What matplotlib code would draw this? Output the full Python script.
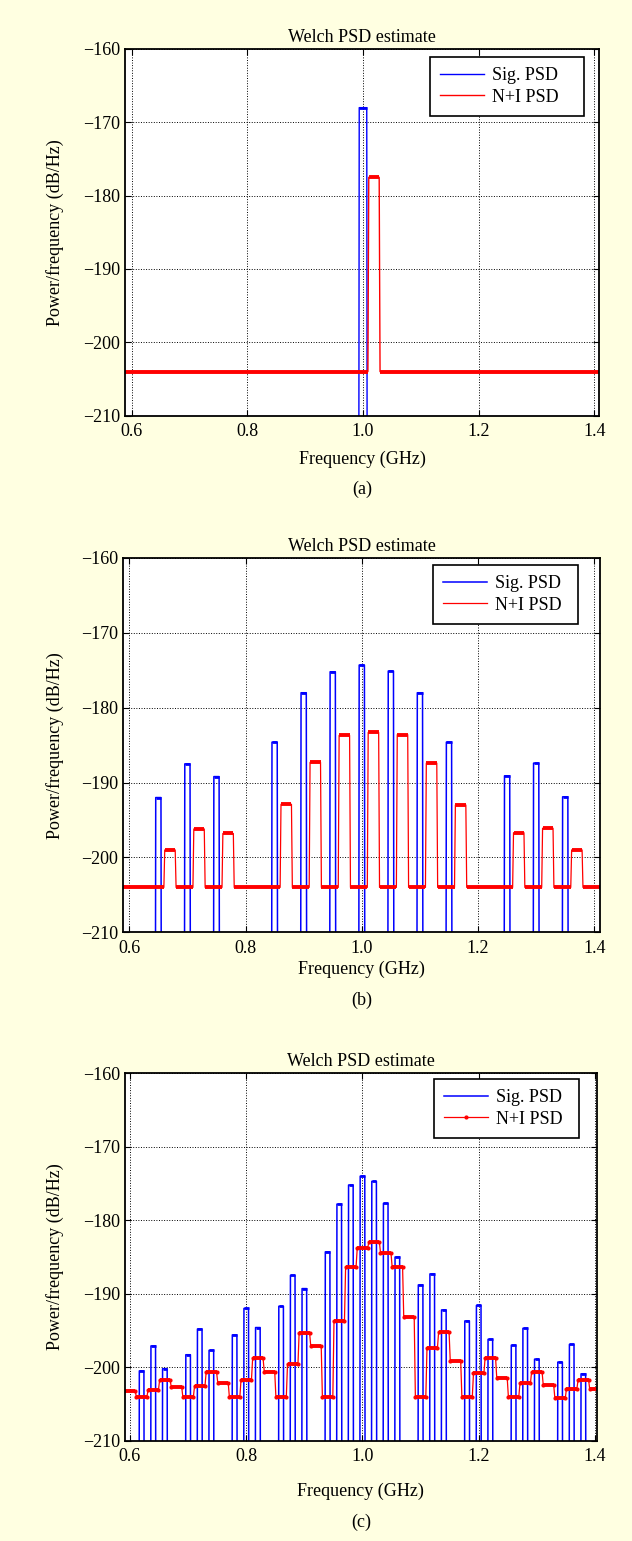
"""Welch PSD estimates: signal vs noise+interference, three band layouts."""

import matplotlib.pyplot as plt
import numpy as np

plt.rcParams["font.family"] = ["Liberation Serif", "DejaVu Serif"]
plt.rcParams["font.size"] = 13

FIG_W, FIG_H = 632, 1541
BG = "#FFFFE1"
BLUE = "#0000FF"
RED = "#FF0000"

FLOOR = -204.0   # N+I noise floor (dB/Hz)
OFF = -240.0     # signal PSD outside its bands, below the plot

# ---- (a) one signal band and one interferer ----
a_sig_centers = [1.000]
a_sig_levels = [-168.0]
a_ni_centers = [1.019]
a_ni_levels = [-177.5]

# ---- (b) 13 signal bands, interferers offset by +20 MHz ----
b_sig_centers = [0.65, 0.70, 0.75, 0.85, 0.90, 0.95, 1.00,
                 1.05, 1.10, 1.15, 1.25, 1.30, 1.35]
b_sig_levels = [-192.0, -187.5, -189.2, -184.6, -178.0, -175.2, -174.3,
                -175.1, -178.0, -184.6, -189.1, -187.4, -191.9]
b_ni_centers = [0.67, 0.72, 0.77, 0.87, 0.92, 0.97, 1.02,
                1.07, 1.12, 1.17, 1.27, 1.32, 1.37]
b_ni_levels = [-199.0, -196.2, -196.8, -192.9, -187.3, -183.7, -183.3,
               -183.6, -187.4, -193.0, -196.7, -196.1, -199.0]

# ---- (c) 31 signal bands, N+I as a staircase of 20 MHz steps ----
c_sig_centers = [0.62, 0.64, 0.66, 0.70, 0.72, 0.74, 0.78, 0.80, 0.82,
                 0.86, 0.88, 0.90, 0.94, 0.96, 0.98, 1.00, 1.02, 1.04,
                 1.06, 1.10, 1.12, 1.14, 1.18, 1.20, 1.22, 1.26, 1.28,
                 1.30, 1.34, 1.36, 1.38]
c_sig_levels = [-200.5, -197.1, -200.2, -198.3, -194.8, -197.7, -195.6,
                -192.0, -194.6, -191.7, -187.5, -189.3, -184.3, -177.8,
                -175.2, -174.0, -174.7, -177.7, -185.0, -188.8, -187.3,
                -192.2, -193.7, -191.6, -196.2, -197.0, -194.7, -198.9,
                -199.3, -196.9, -200.9]
c_ni_centers = [0.60, 0.62, 0.64, 0.66, 0.68, 0.70, 0.72, 0.74, 0.76,
                0.78, 0.80, 0.82, 0.84, 0.86, 0.88, 0.90, 0.92, 0.94,
                0.96, 0.98, 1.00, 1.02, 1.04, 1.06, 1.08, 1.10, 1.12,
                1.14, 1.16, 1.18, 1.20, 1.22, 1.24, 1.26, 1.28, 1.30,
                1.32, 1.34, 1.36, 1.38, 1.40]
c_ni_levels = [-203.2, -204.1, -203.1, -201.7, -202.7, -204.1, -202.6,
               -200.7, -202.1, -204.1, -201.7, -198.8, -200.6, -204.0,
               -199.6, -195.3, -197.1, -204.0, -193.7, -186.3, -183.8,
               -182.9, -184.4, -186.3, -193.2, -204.0, -197.4, -195.2,
               -199.1, -204.0, -200.8, -198.7, -201.4, -204.0, -202.2,
               -200.6, -202.4, -204.2, -202.9, -201.7, -203.0]

x_ticks = [0.6, 0.8, 1.0, 1.2, 1.4]
y_ticks = [-210, -200, -190, -180, -170, -160]


def draw_bands(ax, centers, levels, width, edge, base, color, fuzz, **kw):
    c = np.asarray(centers, float)
    lev = np.asarray(levels, float)
    lo, hi = c - width / 2, c + width / 2
    b = np.full_like(lev, base)
    xs = np.r_[0.5, np.column_stack([lo, lo + edge, hi - edge, hi]).ravel(), 1.5]
    ys = np.r_[base, np.column_stack([b, lev, lev, b]).ravel(), base]
    line, = ax.plot(xs, ys, color=color, **kw)
    ax.hlines(lev, lo + edge, hi - edge, colors=color, lw=fuzz)
    if base > -210:
        gap_lo = np.r_[0.5, hi]
        gap_hi = np.r_[lo, 1.5]
        ax.hlines(np.full_like(gap_lo, base), gap_lo, gap_hi,
                  colors=color, lw=fuzz)
    return line


def draw_steps(ax, centers, levels, step, ramp, color, fuzz, **kw):
    c = np.asarray(centers, float)
    lev = np.asarray(levels, float)
    lo, hi = c - step / 2 + ramp, c + step / 2 - ramp
    lo[0], hi[-1] = 0.5, 1.5
    xs = np.column_stack([lo, hi]).ravel()
    ys = np.column_stack([lev, lev]).ravel()
    line, = ax.plot(xs, ys, color=color, **kw)
    ax.hlines(lev, lo, hi, colors=color, lw=fuzz)
    return line


def make_axes(fig, box, xlim):
    left, top, right, bottom = box
    ax = fig.add_axes([left / FIG_W, 1 - bottom / FIG_H,
                       (right - left) / FIG_W, (bottom - top) / FIG_H])
    ax.set_facecolor("white")
    ax.set_xlim(*xlim)
    ax.set_ylim(-210, -160)
    ax.set_xticks(x_ticks)
    ax.set_xticklabels([f"{t:.1f}" for t in x_ticks])
    ax.set_yticks(y_ticks)
    ax.grid(True, ls=":", color="black", lw=0.7)
    ax.tick_params(direction="in", top=True, right=True, length=4,
                   width=0.8, labelsize=13)
    ax.tick_params(axis="x", pad=5.5)
    ax.tick_params(axis="y", pad=3.5)
    for sp in ax.spines.values():
        sp.set_linewidth(1.3)
    ax.set_title("Welch PSD estimate", pad=5, fontsize=13)
    w = right - left
    ax.set_ylabel("Power/frequency (dB/Hz)", va="center")
    ax.yaxis.set_label_coords((55 - left) / w, 0.5)
    return ax


def finish(ax, box, handles, xlabel_y, legend_box):
    left, top, right, bottom = box
    h = bottom - top
    w = right - left
    ax.set_xlabel("Frequency (GHz)", va="center")
    ax.xaxis.set_label_coords(0.5, -(xlabel_y - bottom) / h)
    lx0, ly0, lx1, ly1 = legend_box
    leg = ax.legend(handles, ["Sig. PSD", "N+I PSD"], loc="upper left",
                    mode="expand",
                    bbox_to_anchor=((lx0 - left) / w, 1 - (ly1 - top) / h,
                                    (lx1 - lx0) / w, (ly1 - ly0) / h),
                    borderaxespad=0, borderpad=0.56, labelspacing=0.25,
                    handlelength=2.45, handletextpad=0.45,
                    fancybox=False, framealpha=1, edgecolor="black",
                    fontsize=13)
    leg.get_frame().set_linewidth(1.2)


fig = plt.figure(figsize=(FIG_W / 100, FIG_H / 100), dpi=100, facecolor=BG)

# (a)
box_a = (125, 49, 599.3, 415.6)
ax = make_axes(fig, box_a, (0.5884, 1.4087))
hs = draw_bands(ax, a_sig_centers, a_sig_levels, 0.015, 0.001, OFF,
                BLUE, 2.0, lw=1.0)
hn = draw_bands(ax, a_ni_centers, a_ni_levels, 0.021, 0.0015, FLOOR,
                RED, 2.8, lw=1.0)
finish(ax, box_a, [hs, hn], 459, (430, 57, 584, 118))
fig.text(362 / FIG_W, 1 - 489 / FIG_H, "(a)", ha="center", va="center")

# (b)
box_b = (123.3, 558, 600, 932.3)
ax = make_axes(fig, box_b, (0.5897, 1.4098))
hs = draw_bands(ax, b_sig_centers, b_sig_levels, 0.011, 0.001, OFF,
                BLUE, 2.0, lw=1.1)
hn = draw_bands(ax, b_ni_centers, b_ni_levels, 0.021, 0.0015, FLOOR,
                RED, 2.8, lw=0.9)
finish(ax, box_b, [hs, hn], 969, (433, 565, 578, 626))
fig.text(362 / FIG_W, 1 - 1000 / FIG_H, "(b)", ha="center", va="center")

# (c)
box_c = (125, 1073.3, 596.7, 1440.7)
ax = make_axes(fig, box_c, (0.5914, 1.403))
hs = draw_bands(ax, c_sig_centers, c_sig_levels, 0.0095, 0.0008, OFF,
                BLUE, 2.0, lw=1.1)
hn = draw_steps(ax, c_ni_centers, c_ni_levels, 0.02, 0.001, RED, 2.8,
                lw=0.9, marker=".", ms=4)
finish(ax, box_c, [hs, hn], 1491, (434, 1079, 579, 1141))
fig.text(361 / FIG_W, 1 - 1522 / FIG_H, "(c)", ha="center", va="center")

fig.savefig("out.png", dpi=100, facecolor=BG)
